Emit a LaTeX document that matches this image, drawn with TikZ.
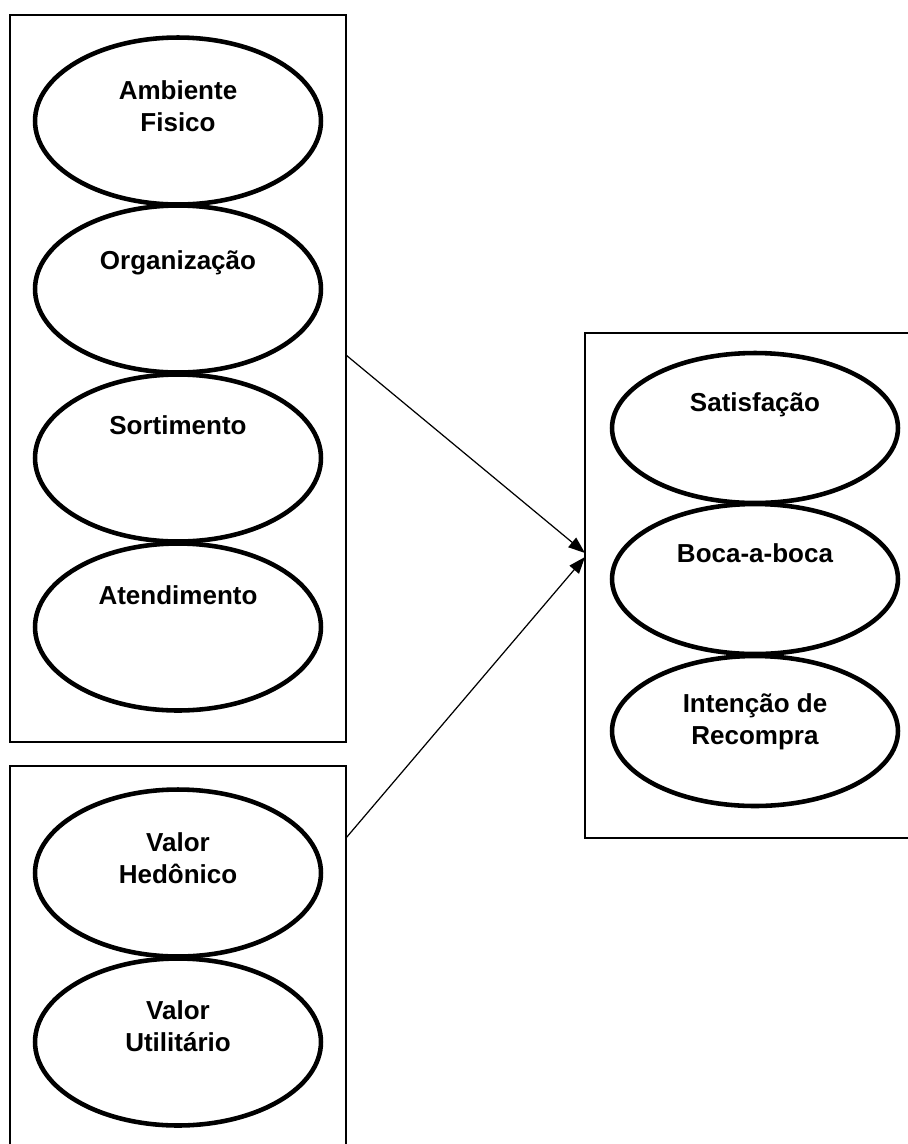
\documentclass[tikz,border=0pt]{standalone}
\usepackage{fontspec}
\setmainfont{Liberation Sans}
\usetikzlibrary{shapes.geometric,arrows.meta}

\tikzset{
  frame/.style={draw, rectangle, line width=1.1pt, inner sep=0},
  oval/.style={draw, ellipse, line width=2.6pt, inner sep=0, minimum width=5.72cm},
  ovaltext/.style={font=\fontsize{14.8}{18.3}\selectfont\bfseries, align=center, inner sep=0, anchor=north},
  link/.style={-{Triangle[length=9.5pt,width=7pt]}, line width=0.7pt},
}

\begin{document}
\begin{tikzpicture}[x=0.02cm, y=-0.02cm]
\useasboundingbox (0,0) rectangle (908,1144);
\clip (0,0) rectangle (908,1144);

% boxes
\node[frame, minimum width=6.72cm, minimum height=14.54cm] (box1) at (178,378.5) {};
\node[frame, minimum width=6.72cm, minimum height=7.7cm] (box2) at (178,958.5) {};
\node[frame, minimum width=6.6cm, minimum height=10.1cm] (box3) at (750,585.5) {};

% antecedentes
\node[oval, minimum height=3.34cm] (amb) at (178,121) {};
\node[oval, minimum height=3.34cm] (org) at (178,289) {};
\node[oval, minimum height=3.34cm] (sort) at (178,458) {};
\node[oval, minimum height=3.34cm] (atend) at (178,627) {};
\node[ovaltext] (ambT) at (178,80) {Ambiente\\Fisico};
\node[ovaltext] (orgT) at (178,250) {Organização};
\node[ovaltext] (sortT) at (178,415) {Sortimento};
\node[ovaltext] (atendT) at (178,585) {Atendimento};

% valores
\node[oval, minimum height=3.34cm] (hed) at (178,873) {};
\node[oval, minimum height=3.34cm] (util) at (178,1042) {};
\node[ovaltext] (hedT) at (178,832) {Valor\\Hedônico};
\node[ovaltext] (utilT) at (178,1000) {Valor\\Utilitário};

% consequentes
\node[oval, minimum height=3.0cm] (sat) at (755,428) {};
\node[oval, minimum height=3.0cm] (boca) at (755,579) {};
\node[oval, minimum height=3.0cm] (rec) at (755,731) {};
\node[ovaltext] (satT) at (755,392) {Satisfação};
\node[ovaltext] (bocaT) at (755,543) {Boca-a-boca};
\node[ovaltext] (recT) at (755,693) {Intenção de\\Recompra};

% setas
\coordinate (out1) at (346,355);
\coordinate (out2) at (346,838);
\coordinate (in1) at (585,553);
\coordinate (in2) at (585,557);
\draw[link] (out1) -- (in1);
\draw[link] (out2) -- (in2);
\end{tikzpicture}
\end{document}
